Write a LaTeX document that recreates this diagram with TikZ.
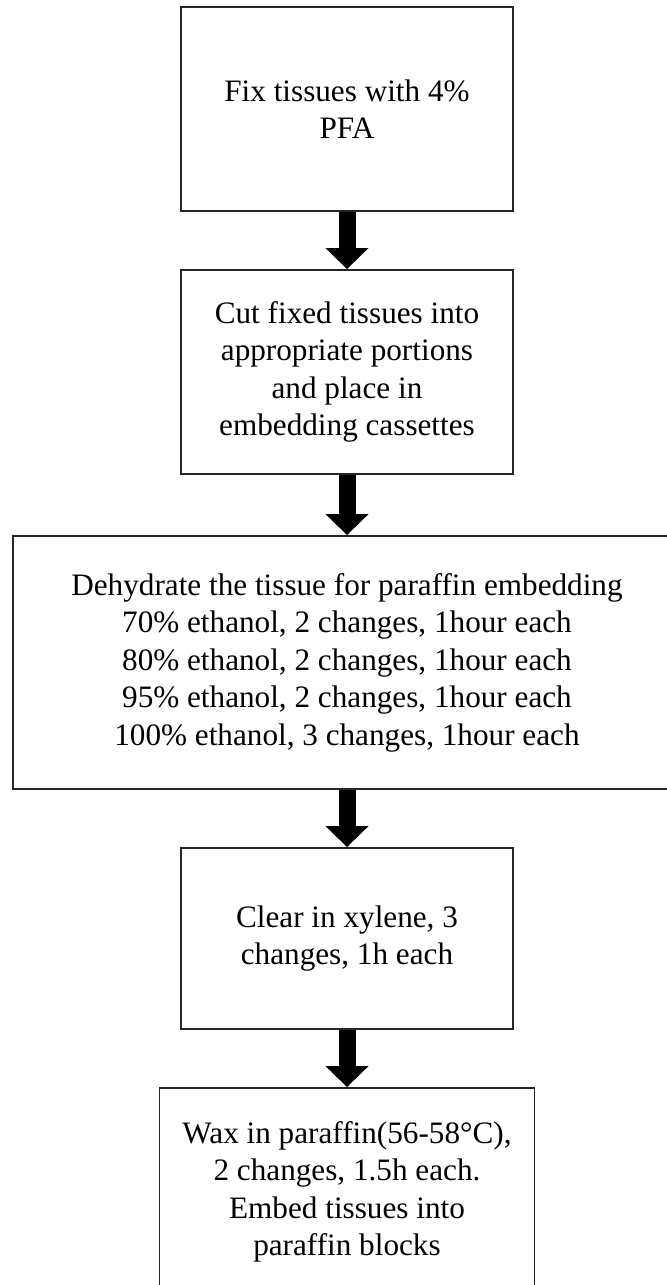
\documentclass[tikz,border=0pt]{standalone}
\usepackage{fontspec}
\setmainfont{Liberation Serif}
\usetikzlibrary{arrows.meta}

\begin{document}
\begin{tikzpicture}[x=0.75pt, y=-0.75pt,
    stepbox/.style={draw=black!85, line width=1.4pt, minimum width=249pt, align=center,
                 font=\fontsize{23.4}{28.1}\selectfont, inner sep=0pt},
    flow/.style={line width=12.75pt, -{Triangle[length=15.75pt, width=32.25pt, line width=0pt]}},
]
\useasboundingbox (0,0) rectangle (667,1285);
\node[stepbox, minimum height=153pt] (fix) at (347,109) {Fix tissues with 4\%\\PFA};
\node[stepbox, minimum height=153pt] (cut) at (347,372) {Cut fixed tissues into\\appropriate portions\\and place in\\embedding cassettes};
\node[stepbox, minimum height=189.75pt, minimum width=501pt] (dehyd) at (347,662.5) {Dehydrate the tissue for paraffin embedding\\70\% ethanol, 2 changes, 1hour each\\80\% ethanol, 2 changes, 1hour each\\95\% ethanol, 2 changes, 1hour each\\100\% ethanol, 3 changes, 1hour each};
\node[stepbox, minimum height=135.75pt] (clear) at (347,938.5) {Clear in xylene, 3\\changes, 1h each};
\node[stepbox, minimum height=156pt, minimum width=281.25pt] (wax) at (347,1192) {Wax in paraffin(56-58°C),\\2 changes, 1.5h each.\\Embed tissues into\\paraffin blocks};

\draw[flow] (fix) -- (cut);
\draw[flow] (cut) -- (dehyd);
\draw[flow] (dehyd) -- (clear);
\draw[flow] (clear) -- (wax);
\end{tikzpicture}
\end{document}
